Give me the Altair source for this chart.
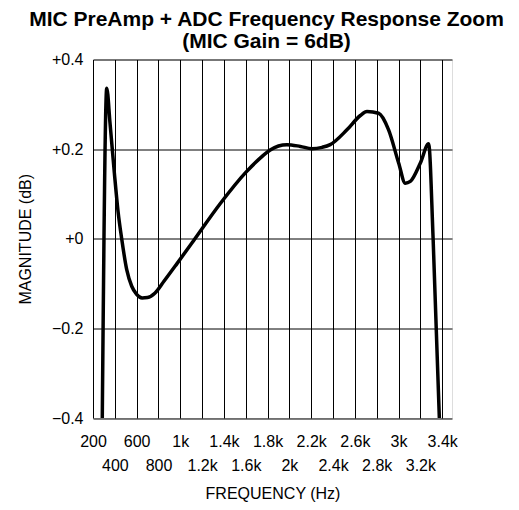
import altair as alt
import pandas as pd

# Curve
freq = [285, 326, 356, 396, 430, 463, 509, 555, 600, 650, 700, 769, 850, 968,
        1120, 1365, 1600, 1732, 1824, 1900, 1977, 2100, 2206, 2300, 2374, 2527,
        2650, 2711, 2817, 2909, 3001, 3062, 3108, 3200, 3276, 3317, 3374]
mag = [-0.40, 0.336, 0.258, 0.146, 0.06, 0.0, -0.069, -0.106, -0.124, -0.132,
       -0.131, -0.121, -0.095, -0.056, -0.005, 0.078, 0.148, 0.18, 0.198, 0.207,
       0.21, 0.206, 0.201, 0.204, 0.21, 0.243, 0.275, 0.284, 0.280, 0.243,
       0.169, 0.124, 0.128, 0.169, 0.212, 0.0, -0.40]

x_ticks = [200, 400, 600, 800, 1000, 1200, 1400, 1600, 1800, 2000, 2200,
           2400, 2600, 2800, 3000, 3200, 3400]
y_ticks = [-0.4, -0.2, 0.0, 0.2, 0.4]

df = pd.DataFrame({"f": freq, "m": mag})

FONT = "Liberation Sans"

x_axis = alt.Axis(
    values=x_ticks,
    grid=True, gridColor="black", gridWidth=1, gridOpacity=1,
    ticks=False, domain=False,
    labelExpr="datum.value < 1000 ? '' + datum.value : (datum.value / 1000) + 'k'",
    labelPadding={"condition": {"test": "(datum.value - 200) % 400 == 0", "value": 15},
                  "value": 39},
    labelOverlap=False, labelFont=FONT, labelFontSize=16, labelColor="black",
    labelFlush=False,
    title="FREQUENCY (Hz)", titleFont=FONT, titleFontSize=16,
    titleFontWeight="normal", titleColor="black",
    titleBaseline="alphabetic", titleY=80,
)

y_axis = alt.Axis(
    values=y_ticks,
    grid=True, gridColor="black", gridWidth=1, gridOpacity=1,
    ticks=False, domain=False,
    labelExpr="datum.value > 0.0001 ? '+' + format(datum.value, '.1f') : (abs(datum.value) < 0.0001 ? '+0' : format(datum.value, '.1f'))",
    labelPadding=10, labelFont=FONT, labelFontSize=16, labelColor="black",
    labelFlush=False,
    title="MAGNITUDE (dB)", titleFont=FONT, titleFontSize=16,
    titleFontWeight="normal", titleColor="black",
    titleBaseline="alphabetic", titleX=-63,
)

chart = alt.Chart(df).mark_line(
    color="black", strokeWidth=3.5, interpolate="monotone", clip=True
).encode(
    x=alt.X("f:Q", scale=alt.Scale(domain=[200, 3490], nice=False, zero=False), axis=x_axis),
    y=alt.Y("m:Q", scale=alt.Scale(domain=[-0.4, 0.4], nice=False, zero=False), axis=y_axis),
).properties(
    width=359, height=358.5,
    title=alt.TitleParams(
        text=["MIC PreAmp + ADC Frequency Response Zoom", "(MIC Gain = 6dB)"],
        font=FONT, fontSize=21, fontWeight="bold", color="black",
        anchor="middle", lineHeight=22, offset=0, dx=-6,
    ),
    autosize=alt.AutoSizeParams(type="none"),
    padding={"left": 85, "top": 51.5, "right": 59, "bottom": 86},
).configure_view(
    stroke="black", strokeWidth=1.5
).configure(background="white")

chart.save("out.html", embed_options={"renderer": "svg", "actions": False})
